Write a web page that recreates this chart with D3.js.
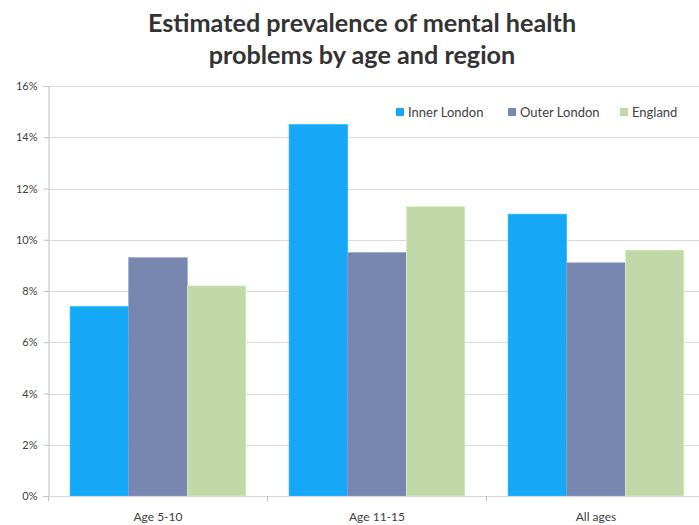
<!DOCTYPE html>
<html><head><meta charset="utf-8">
<script src="https://cdn.jsdelivr.net/npm/d3@7"></script>
<style>body{margin:0;background:#fff;overflow:hidden}svg{display:block}</style>
</head><body><svg id="c" width="699" height="525"></svg>
<script>
const categories = ["Age 5-10", "Age 11-15", "All ages"];
const seriesNames = ["Inner London", "Outer London", "England"];
const innerLondon = [7.4, 14.5, 11.0];
const outerLondon = [9.3, 9.5, 9.1];
const england = [8.2, 11.3, 9.6];
const yTicks = [0, 2, 4, 6, 8, 10, 12, 14, 16];
const colors = ["#17a7f7", "#7887b0", "#c1d9a8"];
const titleLines = ["Estimated prevalence of mental health", "problems by age and region"];

(function () {
const values = [innerLondon, outerLondon, england];
const svg = d3.select("#c");
const plotLeft = 48.5, plotTop = 86, plotBottom = 496;
const x = d3.scaleBand().domain(categories).range([plotLeft, plotLeft + 3 * 219]).paddingInner(0).paddingOuter(0);
const xs = d3.scaleBand().domain(seriesNames).range([0, x.bandwidth()]).paddingOuter(0.368).paddingInner(0);
const y = d3.scaleLinear().domain([0, 16]).range([plotBottom, plotTop]);

// gridlines
svg.append("g").selectAll("line").data(yTicks.filter(d => d > 0)).join("line")
  .attr("x1", plotLeft).attr("x2", 699).attr("y1", d => Math.round(y(d)) + 0.5).attr("y2", d => Math.round(y(d)) + 0.5)
  .attr("stroke", "#d9d9d9").attr("stroke-width", 1);

// bars
const g = svg.append("g");
categories.forEach((c, i) => {
  seriesNames.forEach((s, j) => {
    g.append("rect")
      .attr("x", x(c) + xs(s)).attr("width", xs.bandwidth())
      .attr("y", y(values[j][i])).attr("height", plotBottom - y(values[j][i]))
      .attr("fill", colors[j]).attr("stroke", d3.color(colors[j]).brighter(0.4)).attr("stroke-width", 0.6);
  });
});

// y axis
const yAxis = svg.append("g").attr("transform", `translate(${plotLeft},0)`)
  .call(d3.axisLeft(y).tickValues(yTicks).tickFormat(d => d + "%").tickSize(5).tickPadding(6));
yAxis.select(".domain").attr("stroke", "#bfbfbf");
yAxis.selectAll(".tick line").attr("stroke", "#bfbfbf");
yAxis.selectAll("text").attr("fill", "#404040").style("font-family", "Lato, 'Open Sans', sans-serif").style("font-size", "11px");

// x axis
svg.append("line").attr("x1", plotLeft).attr("x2", 699).attr("y1", plotBottom + 0.5).attr("y2", plotBottom + 0.5).attr("stroke", "#d9d9d9");
const bounds = [plotLeft, plotLeft + 219, plotLeft + 438];
svg.append("g").selectAll("line").data(bounds).join("line")
  .attr("x1", d => d).attr("x2", d => d).attr("y1", plotBottom).attr("y2", plotBottom + 5).attr("stroke", "#bfbfbf");
svg.append("g").selectAll("text").data(categories).join("text")
  .attr("x", d => x(d) + x.bandwidth() / 2).attr("y", 521)
  .attr("text-anchor", "middle").attr("fill", "#404040")
  .style("font-family", "Lato, 'Open Sans', sans-serif").style("font-size", "12px").text(d => d);

// title
svg.append("g").selectAll("text").data(titleLines).join("text")
  .attr("x", 362).attr("y", (d, i) => 32 + i * 32).attr("text-anchor", "middle")
  .attr("fill", "#333333").style("font-family", "Lato, 'Open Sans', sans-serif").style("font-weight", "bold").style("font-size", "25.2px")
  .text(d => d);

// legend
const legX = [396, 508, 620];
const leg = svg.append("g");
seriesNames.forEach((s, j) => {
  leg.append("rect").attr("x", legX[j]).attr("y", 108).attr("width", 8).attr("height", 8).attr("fill", colors[j]);
  leg.append("text").attr("x", legX[j] + 12).attr("y", 117).attr("fill", "#404040")
    .style("font-family", "Lato, 'Open Sans', sans-serif").style("font-size", "13px").text(s);
});
})();
</script></body></html>
